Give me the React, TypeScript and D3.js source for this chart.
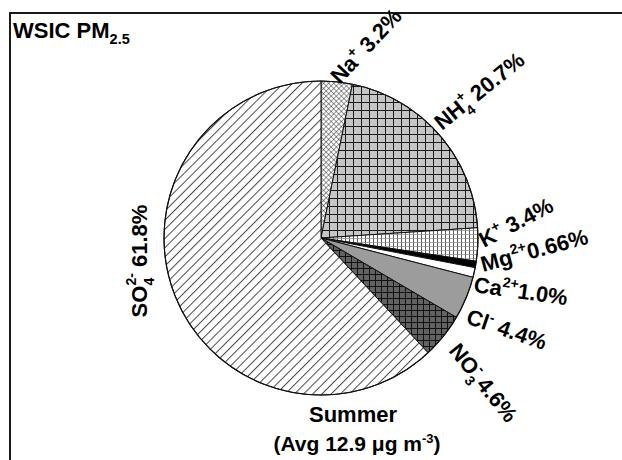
import React from "react";
import * as d3 from "d3";

// Water-soluble inorganic ions in summer PM2.5, share of total (%)
const ionBase = ["Na", "NH", "K", "Mg", "Ca", "Cl", "NO", "SO"];
const ionSub = ["", "4", "", "", "", "", "3", "4"];
const ionCharge = ["+", "+", "+", "2+", "2+", "-", "-", "2-"];
const shares = [3.2, 20.7, 3.4, 0.66, 1.0, 4.4, 4.6, 61.8];
const shareDecimals = [1, 1, 1, 2, 1, 1, 1, 1];
const valueGap = [" ", " ", " ", "", "", " ", " ", " "];

const titleText = "WSIC PM";
const titleSub = "2.5";
const seasonText = "Summer";
const avgValue = 12.9;

const W = 622;
const H = 460;
const FONT = "Arial, 'Liberation Sans', Helvetica, sans-serif";

const fills = [
  "url(#p-na)",
  "url(#p-nh4)",
  "url(#p-k)",
  "#000000",
  "#ffffff",
  "#9c9c9c",
  "url(#p-no3)",
  "url(#p-so4)",
];

// label placement: baseline start point and rotation
const labelLayout = [
  { x: 340, y: 85, a: -47 },
  { x: 442, y: 131, a: -39 },
  { x: 484, y: 248, a: -28 },
  { x: 483, y: 272, a: -15 },
  { x: 473, y: 292, a: 8 },
  { x: 465, y: 323, a: 19 },
  { x: 448, y: 351, a: 51 },
  { x: 147, y: 261, a: -90, anchor: "middle" },
];

function IonLabel({ i, fs }: { i: number; fs: number }) {
  const L = labelLayout[i];
  const small = fs * 0.64;
  const sub = ionSub[i];
  const sup = ionCharge[i];
  const subW = sub ? sub.length * 0.556 * small : 0;
  let shift = 0;
  const parts: React.ReactNode[] = [<tspan key="b">{ionBase[i]}</tspan>];
  if (sub) {
    parts.push(
      <tspan key="s" dy={0.3 * fs} fontSize={small}>
        {sub}
      </tspan>
    );
    shift += 0.3 * fs;
  }
  const supDy = sub ? -0.78 * fs : -0.42 * fs;
  parts.push(
    <tspan key="c" dx={sub ? -subW : 0} dy={supDy} fontSize={small}>
      {sup}
    </tspan>
  );
  shift += supDy;
  const val = shares[i].toFixed(shareDecimals[i]) + "%";
  parts.push(
    <tspan key="v" dy={-shift} fontSize={fs} style={{ whiteSpace: "pre" }}>
      {valueGap[i] + val}
    </tspan>
  );
  return (
    <text
      transform={`translate(${L.x},${L.y}) rotate(${L.a})`}
      fontFamily={FONT}
      fontWeight="bold"
      fontSize={fs}
      textAnchor={L.anchor || "start"}
      fill="#000"
      style={{ whiteSpace: "pre" }}
    >
      {parts}
    </text>
  );
}

export default function App() {
  const cx = 321;
  const cy = 238;
  const R = 157;

  const arcs = d3
    .pie<number>()
    .sort(null)
    .value((d) => d)(shares);
  const arcGen = d3
    .arc<d3.PieArcDatum<number>>()
    .innerRadius(0)
    .outerRadius(R);

  const fs = 22;

  return (
    <svg
      width={W}
      height={H}
      style={{ position: "absolute", left: 0, top: 0, background: "#fff" }}
    >
      <defs>
        <pattern id="p-so4" width={6.5} height={6.5} patternUnits="userSpaceOnUse" patternTransform="rotate(45)">
          <rect width={6.5} height={6.5} fill="#fff" />
          <line x1={0.5} y1={0} x2={0.5} y2={6.5} stroke="#4a4a4a" strokeWidth={1} />
        </pattern>
        <pattern id="p-na" width={3.6} height={3.6} patternUnits="userSpaceOnUse" patternTransform="rotate(45)">
          <rect width={3.6} height={3.6} fill="#fff" />
          <line x1={0} y1={0} x2={0} y2={3.6} stroke="#222" strokeWidth={0.9} />
          <line x1={0} y1={0} x2={3.6} y2={0} stroke="#222" strokeWidth={0.9} />
        </pattern>
        <pattern id="p-nh4" width={8} height={8} patternUnits="userSpaceOnUse">
          <rect width={8} height={8} fill="#c6c6c6" />
          <line x1={0.5} y1={0} x2={0.5} y2={8} stroke="#1a1a1a" strokeWidth={1} />
          <line x1={0} y1={0.5} x2={8} y2={0.5} stroke="#1a1a1a" strokeWidth={1} />
        </pattern>
        <pattern id="p-k" width={4} height={4} patternUnits="userSpaceOnUse">
          <rect width={4} height={4} fill="#fff" />
          <line x1={0.5} y1={0} x2={0.5} y2={4} stroke="#333" strokeWidth={0.8} />
          <line x1={0} y1={0.5} x2={4} y2={0.5} stroke="#888" strokeWidth={0.7} />
        </pattern>
        <pattern id="p-no3" width={6} height={6} patternUnits="userSpaceOnUse">
          <rect width={6} height={6} fill="#626262" />
          <line x1={0.5} y1={0} x2={0.5} y2={6} stroke="#111" strokeWidth={1} />
          <line x1={0} y1={0.5} x2={6} y2={0.5} stroke="#111" strokeWidth={1} />
        </pattern>
      </defs>

      <rect x={0} y={0} width={W} height={H} fill="#fff" />
      <rect x={10} y={13} width={W + 40} height={H + 40} fill="none" stroke="#1a1a1a" strokeWidth={2} />

      <text x={13} y={38} fontFamily={FONT} fontWeight="bold" fontSize={22} fill="#000">
        {titleText}
        <tspan dy={6} fontSize={14.5}>
          {titleSub}
        </tspan>
      </text>

      <g transform={`translate(${cx},${cy})`}>
        {arcs.map((a, i) => (
          <path key={i} d={arcGen(a) || ""} fill={fills[i]} stroke="#111" strokeWidth={1} strokeLinejoin="round" />
        ))}
        <circle r={R} fill="none" stroke="#111" strokeWidth={1.2} />
      </g>

      {shares.map((_, i) => (
        <IonLabel key={i} i={i} fs={fs} />
      ))}

      <text x={353} y={422} textAnchor="middle" fontFamily={FONT} fontWeight="bold" fontSize={22} fill="#000">
        {seasonText}
      </text>
      <text x={357} y={451} textAnchor="middle" fontFamily={FONT} fontWeight="bold" fontSize={21} fill="#000" style={{ whiteSpace: "pre" }}>
        {`(Avg ${avgValue.toFixed(1)} μg m`}
        <tspan dy={-8} fontSize={13}>
          -3
        </tspan>
        <tspan dy={8}>)</tspan>
      </text>
    </svg>
  );
}
